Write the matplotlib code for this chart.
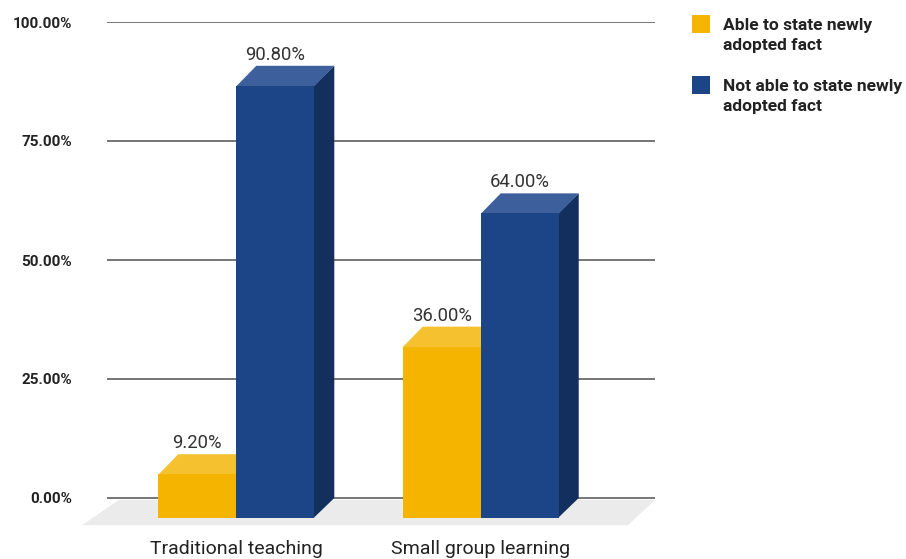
import matplotlib
matplotlib.use("Agg")
import matplotlib.pyplot as plt
from matplotlib.patches import Polygon, Rectangle

plt.rcParams['font.family'] = ['Roboto', 'DejaVu Sans']

categories = ["Traditional teaching", "Small group learning"]
able = [9.20, 36.00]
not_able = [90.80, 64.00]
series_names = ["Able to state newly\nadopted fact", "Not able to state newly\nadopted fact"]
yticks = [0, 25, 50, 75, 100]

# colours
YEL_FRONT, YEL_TOP, YEL_SIDE = "#f4b400", "#f6c12e", "#c99400"
BLU_FRONT, BLU_TOP, BLU_SIDE = "#1c4587", "#3d609c", "#132f5e"
FLOOR = "#ebebeb"
GRID = "#6b6b6b"

W, H = 906, 559
fig = plt.figure(figsize=(W / 100, H / 100), dpi=100)

# axes placement in pixels
ax_left, ax_right = 107, 655
y0_px, y100_px = 498, 22
ymin, ymax = -6, 100
px_per_y = (y0_px - y100_px) / 100.0
ax_bottom_px = y0_px - ymin * px_per_y
ax = fig.add_axes([ax_left / W, (H - ax_bottom_px) / H,
                   (ax_right - ax_left) / W, (ax_bottom_px - y100_px) / H])

x = [0, 1]
xmin, xmax = -0.529, 1.713
ax.set_xlim(xmin, xmax)
ax.set_ylim(ymin, ymax)
px_per_x = (ax_right - ax_left) / (xmax - xmin)

depth_px = 20
dx = depth_px / px_per_x
dy = depth_px / px_per_y
bw = 78 / px_per_x

for s in ax.spines.values():
    s.set_visible(False)
ax.set_yticks(yticks)
ax.set_yticklabels([f"{v:.2f}%" for v in yticks], fontsize=11, fontweight='bold', color='#222222')
ax.tick_params(axis='y', length=0, pad=25)
ax.yaxis.grid(True, color=GRID, linewidth=1.3)
ax.set_axisbelow(True)
ax.set_xticks(x)
ax.set_xticklabels(categories, fontsize=14, color='#222222')
ax.tick_params(axis='x', length=0, pad=10)

# floor
fx0, fx1 = xmin, xmax
floor_top = -0.4
floor_bot = -5.7
fl = Polygon([(fx0 - 25 / px_per_x, floor_bot), (fx0 + 12 / px_per_x, floor_top),
              (fx1, floor_top), (fx1 - 27 / px_per_x, floor_bot)],
             closed=True, facecolor=FLOOR, edgecolor='none', zorder=1, clip_on=False)
ax.add_patch(fl)


def draw_bar(x0, val, front, top, side):
    x1 = x0 + bw
    b = -dy
    t = val - dy
    ax.add_patch(Polygon([(x1 - 0.003, b), (x1 + dx, b + dy), (x1 + dx, t + dy), (x1 - 0.003, t)],
                         closed=True, facecolor=side, edgecolor='none', zorder=3))
    ax.add_patch(Polygon([(x0, t - 0.1), (x0 + dx, t + dy), (x1 + dx, t + dy), (x1, t - 0.1)],
                         closed=True, facecolor=top, edgecolor='none', zorder=3))
    ax.bar(x0, val, width=bw, bottom=b, align='edge', color=front, linewidth=0, zorder=4)
    ax.annotate(f"{val:.2f}%", (x0 + bw / 2, val), xytext=(0, 1.5), textcoords='offset points',
                ha='center', va='bottom', fontsize=13.3, color='#333333', zorder=5)


for i in range(len(categories)):
    draw_bar(x[i] - bw, able[i], YEL_FRONT, YEL_TOP, YEL_SIDE)
    draw_bar(x[i], not_able[i], BLU_FRONT, BLU_TOP, BLU_SIDE)

# legend (manual, in figure pixels)
leg_items = [(YEL_FRONT, 15), (BLU_FRONT, 76)]
for (col, ytop), name in zip(leg_items, series_names):
    fig.patches.append(Rectangle((692 / W, 1 - (ytop + 18) / H), 18 / W, 18 / H,
                                 transform=fig.transFigure, facecolor=col, edgecolor='none'))
    fig.text(723 / W, 1 - (ytop + 3) / H, name, ha='left', va='top', fontsize=12.5,
             fontweight='bold', color='#222222', linespacing=1.42)

fig.savefig("out.png", dpi=100)
